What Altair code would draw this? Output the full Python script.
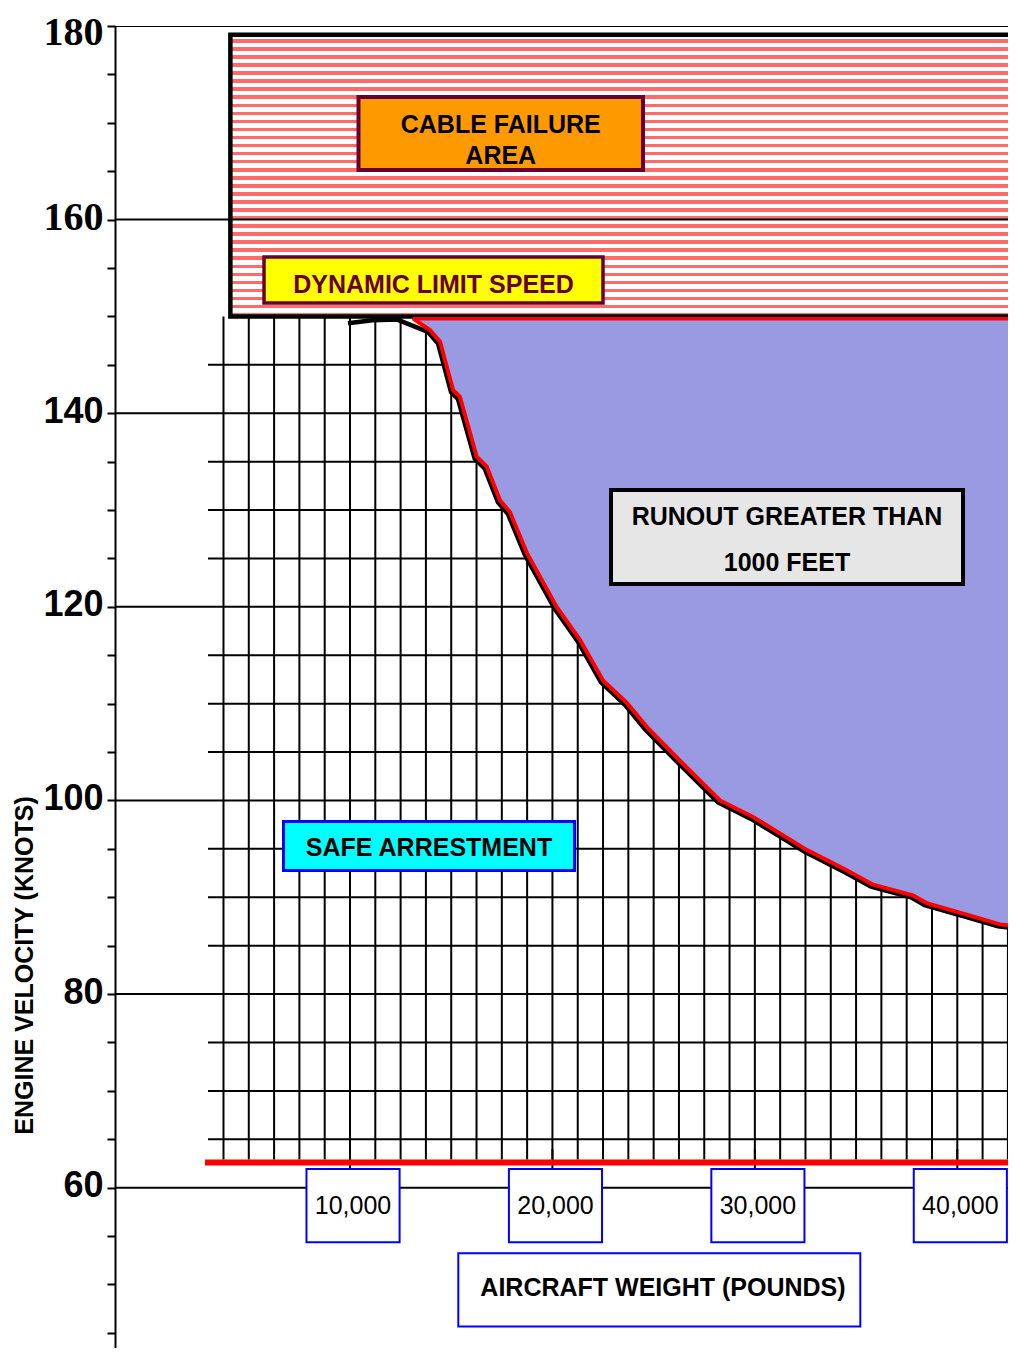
import altair as alt
import pandas as pd

# ---------------- values ----------------
# red boundary curve: aircraft weight (lb) vs engine velocity (knots)
CURVE_WEIGHT = [13110, 13950, 14450, 15090, 15430, 16260, 16750, 17410, 17900, 18730,
                20210, 21360, 22500, 23670, 24660, 26300, 28280, 29910, 31240, 32560,
                34540, 35840, 37810, 38490, 40470, 42110, 42900]
CURVE_SPEED = [149.8, 148.6, 147.4, 142.4, 141.7, 135.5, 134.5, 131.0, 129.8, 125.6,
               120.0, 116.6, 112.4, 110.1, 107.6, 104.1, 100.0, 98.3, 96.6, 94.9,
               92.8, 91.3, 90.2, 89.4, 88.2, 87.2, 87.0]
# black limit curve: starts under the dynamic limit, then follows the red one
LIMIT_WEIGHT = [10000, 11200, 12400] + CURVE_WEIGHT[1:]
LIMIT_SPEED = [149.5, 149.8, 149.9] + CURVE_SPEED[1:]

DYNAMIC_LIMIT = 150      # knots, bottom of the cable failure area
CABLE_TOP = 179.1        # knots, top of the cable failure area
CABLE_START = 4090       # lb, left edge of the cable failure area
MIN_SPEED = 62.6         # knots, red base line
GRID_START = 2985        # lb, left end of the minor grid lines

Y_TICKS = list(range(45, 181, 5))
Y_MAJOR = [60, 80, 100, 120, 140, 160, 180]
X_TICKS = [10000, 20000, 30000, 40000]
X_TICK_LABELS = ["10,000", "20,000", "30,000", "40,000"]
V_GRID = list(range(3750, 42501, 1250))
H_GRID = [v for v in range(65, 150, 5) if v % 20 != 0]

X_DOMAIN = [-1609, 42505]
Y_DOMAIN = [43.44, 180]
XMAX = 45000

XS = alt.Scale(domain=X_DOMAIN, nice=False, zero=False)
YS = alt.Scale(domain=Y_DOMAIN, nice=False, zero=False)


def X(f):
    return alt.X(f, type="quantitative", scale=XS, axis=None)


def Y(f):
    return alt.Y(f, type="quantitative", scale=YS)


SANS = "Liberation Sans"
SERIF = "Liberation Serif"

y_axis = alt.Axis(
    values=Y_TICKS, grid=False, tickSize=8, tickWidth=2, tickColor="black",
    domainColor="black", domainWidth=2,
    labelExpr="datum.value % 20 == 0 ? datum.value : ''",
    labelFont=alt.condition("datum.value >= 160", alt.value(SERIF), alt.value(SANS)),
    labelFontSize=alt.condition("datum.value >= 160", alt.value(40), alt.value(36)),
    labelOffset=alt.condition("datum.value >= 180", alt.value(6), alt.value(-2)),
    labelFontWeight="bold", labelColor="black", labelPadding=4,
    labelBaseline="middle", labelOverlap=False,
    title="ENGINE VELOCITY (KNOTS)", titleFont=SANS, titleFontSize=25,
    titleFontWeight="bold", titleColor="black", titleX=-91, titleY=939,
    titleAngle=270, titleAlign="center", titleBaseline="middle",
)

# stripes imitating the red wavy hatch of the cable failure area
ROWS = 35
stops = []
for i in range(ROWS):
    a = i / ROWS
    b = (i + 0.55) / ROWS
    c = (i + 1) / ROWS
    stops += [dict(offset=a, color="#ffffff"), dict(offset=b, color="#ffffff"),
              dict(offset=b, color="#ff6a6a"), dict(offset=c, color="#ff6a6a")]
RED_HATCH = dict(gradient="linear", x1=0, y1=0, x2=0, y2=1, stops=stops)

# minor horizontal grid (carries the y axis)
hgrid_df = pd.DataFrame({"v": H_GRID, "x0": GRID_START, "x1": XMAX})
hgrid = alt.Chart(hgrid_df).mark_rule(color="black", strokeWidth=2, clip=True).encode(
    x=X("x0"), x2=alt.X2("x1"),
    y=alt.Y("v", type="quantitative", scale=YS, axis=y_axis),
)

# vertical grid
vgrid_df = pd.DataFrame({"w": V_GRID, "y0": MIN_SPEED + 0.3, "y1": DYNAMIC_LIMIT})
vgrid = alt.Chart(vgrid_df).mark_rule(color="black", strokeWidth=2, clip=True).encode(
    x=X("w"), y=Y("y0"), y2=alt.Y2("y1"))

# x ticks reaching the label boxes
xt_df = pd.DataFrame({"w": X_TICKS, "y0": 61.9, "y1": 64})
xticks = alt.Chart(xt_df).mark_rule(color="black", strokeWidth=2).encode(
    x=X("w"), y=Y("y0"), y2=alt.Y2("y1"))

# major horizontal lines
maj_df = pd.DataFrame({"v": Y_MAJOR, "x0": X_DOMAIN[0], "x1": XMAX})
major_low = alt.Chart(maj_df).transform_filter("datum.v < 150").mark_rule(
    color="black", strokeWidth=2, clip=True).encode(x=X("x0"), x2=alt.X2("x1"), y=Y("v"))
major_high = alt.Chart(maj_df).transform_filter("datum.v > 150").mark_rule(
    color="black", strokeWidth=2, clip=True).encode(x=X("x0"), x2=alt.X2("x1"), y=Y("v"))

# runout > 1000 ft region
area_df = pd.DataFrame({"w": CURVE_WEIGHT, "s": CURVE_SPEED, "top": DYNAMIC_LIMIT})
runout = alt.Chart(area_df).mark_area(color="#9a9ae2", opacity=1, clip=True).encode(
    x=X("w"), y=Y("s"), y2=alt.Y2("top"))

# cable failure region
cable_df = pd.DataFrame({"x0": [CABLE_START], "x1": [XMAX], "y0": [DYNAMIC_LIMIT], "y1": [CABLE_TOP]})
cable = alt.Chart(cable_df).mark_rect(fill=RED_HATCH, stroke="black", strokeWidth=4.5,
                                      clip=True).encode(
    x=X("x0"), x2=alt.X2("x1"), y=Y("y0"), y2=alt.Y2("y1"))

# red border on top of runout region
top_df = pd.DataFrame({"x0": [CURVE_WEIGHT[0]], "x1": [XMAX], "v": [DYNAMIC_LIMIT - 0.25]})
top_red = alt.Chart(top_df).mark_rule(color="#ff0000", strokeWidth=3.5, clip=True).encode(
    x=X("x0"), x2=alt.X2("x1"), y=Y("v"))

# curves
limit_df = pd.DataFrame({"w": LIMIT_WEIGHT, "s": LIMIT_SPEED})
black_curve = alt.Chart(limit_df).mark_line(color="black", strokeWidth=4.5, xOffset=-2, yOffset=2,
                                            clip=True).encode(x=X("w"), y=Y("s"))
curve_df = pd.DataFrame({"w": CURVE_WEIGHT, "s": CURVE_SPEED})
red_curve = alt.Chart(curve_df).mark_line(color="#ff0000", strokeWidth=4, clip=True).encode(
    x=X("w"), y=Y("s"))

# red base line
base_df = pd.DataFrame({"x0": [2837], "x1": [XMAX], "v": [MIN_SPEED]})
base = alt.Chart(base_df).mark_rule(color="#ff0000", strokeWidth=6, clip=True).encode(
    x=X("x0"), x2=alt.X2("x1"), y=Y("v"))

# annotation boxes
boxes = [
    dict(x0=10420, x1=24474, y0=165.13, y1=172.67, fill="#ff9900", stroke="#660033", sw=4),
    dict(x0=5752, x1=22498, y0=151.39, y1=156.14, fill="#ffff00", stroke="#660033", sw=3.5),
    dict(x0=22894, x1=40283, y0=122.36, y1=132.07, fill="#e6e6e6", stroke="black", sw=4),
    dict(x0=6715, x1=21091, y0=92.77, y1=97.83, fill="#00ffff", stroke="#0000ff", sw=3),
    dict(x0=15350, x1=35209, y0=45.65, y1=53.23, fill="white", stroke="#0000ff", sw=2),
]
for t in X_TICKS:
    boxes.append(dict(x0=t - 2150, x1=t + 2450, y0=54.36, y1=61.93, fill="white",
                      stroke="#0000ff", sw=2))
box_df = pd.DataFrame(boxes)
box_layer = alt.Chart(box_df).mark_rect().encode(
    x=X("x0"), x2=alt.X2("x1"), y=Y("y0"), y2=alt.Y2("y1"),
    fill=alt.Fill("fill:N", scale=None), stroke=alt.Stroke("stroke:N", scale=None),
    strokeWidth=alt.StrokeWidth("sw:Q", scale=None),
)

texts = [
    dict(x=17447, y=169.79, t="CABLE FAILURE", c="black", w="bold"),
    dict(x=17447, y=166.62, t="AREA", c="black", w="bold"),
    dict(x=14125, y=153.2, t="DYNAMIC LIMIT SPEED", c="#660033", w="bold"),
    dict(x=31588, y=129.23, t="RUNOUT GREATER THAN", c="black", w="bold"),
    dict(x=31588, y=124.58, t="1000 FEET", c="black", w="bold"),
    dict(x=13903, y=95.04, t="SAFE ARRESTMENT", c="black", w="bold"),
    dict(x=25462, y=49.62, t="AIRCRAFT WEIGHT (POUNDS)", c="black", w="bold"),
]
for t, lab in zip(X_TICKS, X_TICK_LABELS):
    texts.append(dict(x=t + 150, y=58.06, t=lab, c="black", w="normal"))
text_df = pd.DataFrame(texts)
text_bold = alt.Chart(text_df).transform_filter("datum.w == 'bold'").mark_text(
    font=SANS, fontSize=25, fontWeight="bold", align="center", baseline="middle").encode(
    x=X("x"), y=Y("y"), text="t:N", color=alt.Color("c:N", scale=None))
text_norm = alt.Chart(text_df).transform_filter("datum.w == 'normal'").mark_text(
    font=SANS, fontSize=25, fontWeight="normal", align="center", baseline="middle").encode(
    x=X("x"), y=Y("y"), text="t:N", color=alt.Color("c:N", scale=None))

chart = alt.layer(
    hgrid, vgrid, xticks, major_low, runout, cable, major_high, top_red,
    black_curve, red_curve, base, box_layer, text_bold, text_norm,
).properties(
    width=893, height=1322,
    autosize=alt.AutoSizeParams(type="none"),
    padding={"left": 107, "top": 18, "right": 0, "bottom": 0},
    background="white",
).configure_view(stroke=None)

chart.save("out.html", embed_options={"renderer": "svg", "actions": False})
